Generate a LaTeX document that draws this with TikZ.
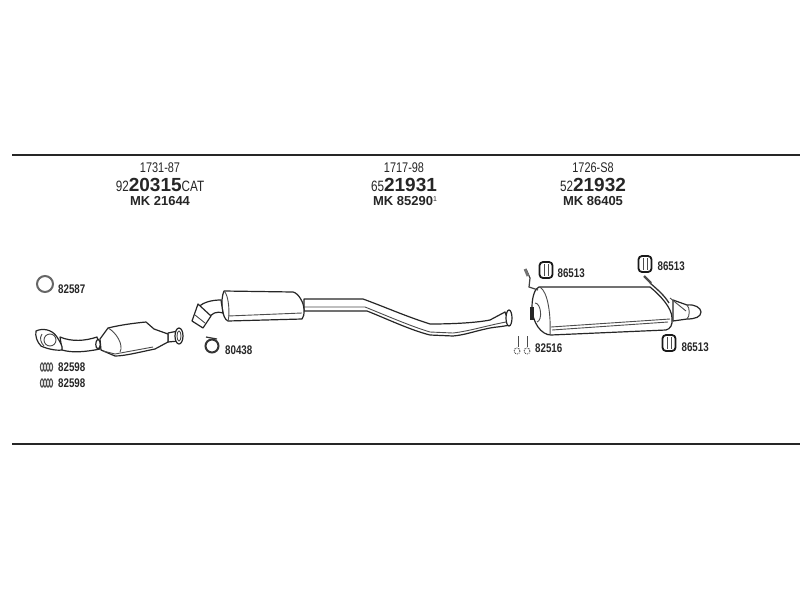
\documentclass[tikz,border=0pt]{standalone}
\usepackage{fontspec}
\setmainfont{Liberation Sans}
\newfontfamily\narrowfont[FakeStretch=0.78]{Liberation Sans}
\newcommand{\numprefix}{\narrowfont\mdseries\fontsize{15}{15}\selectfont}
\usetikzlibrary{positioning}

\begin{document}
\begin{tikzpicture}[x=1pt,y=-1pt]
    \tikzstyle{rule} = [line width=1.6pt, draw=black!85]
    \tikzstyle{part} = [line width=1.2pt, draw=black!85, fill=white, line join=round]
    \tikzstyle{detail} = [line width=0.9pt, draw=black!70]
    \tikzstyle{refnum} = [font=\narrowfont\fontsize{14}{14}\selectfont, inner sep=0pt, text=black!85]
    \tikzstyle{ordernum} = [font=\narrowfont\bfseries\fontsize{12.5}{12.5}\selectfont, inner sep=0pt, anchor=west, text=black!85]
    \tikzstyle{mainnum} = [font=\fontsize{19}{19}\selectfont\bfseries, inner sep=0pt, text=black!85]
    \tikzstyle{mknum} = [font=\bfseries\fontsize{13}{13}\selectfont, inner sep=0pt, text=black!85]
    \tikzstyle{bush} = [draw=black!90, line width=1.8pt, rounded corners=3.5pt, minimum width=13pt, minimum height=16pt, inner sep=0pt, fill=white]
    \tikzstyle{ring} = [circle, draw=black!60, line width=2pt, inner sep=0pt]
    \useasboundingbox (0,0) rectangle (800,600);

    \draw [rule] (12,155) -- (800,155);
    \draw [rule] (12,444) -- (800,444);

    % header columns
    \node (catref)[refnum] at (160,168) {1731-87};
    \node (catnum)[mainnum] at (160,185) {{\numprefix 92}20315{\numprefix CAT}};
    \node (catmk)[mknum] at (160,201) {MK 21644};
    \node (midref)[refnum] at (404,168) {1717-98};
    \node (midnum)[mainnum] at (404,185) {{\numprefix 65}21931};
    \node (midmk)[mknum] at (405,201) {MK 85290\raisebox{4pt}{\mdseries\fontsize{7}{7}\selectfont 1}};
    \node (rearref)[refnum] at (593,168) {1726-S8};
    \node (rearnum)[mainnum] at (593,185) {{\numprefix 52}21932};
    \node (rearmk)[mknum] at (593,201) {MK 86405};

    % catalytic converter
    \draw [part] (60,337) .. controls (72,342) and (85,341) .. (97,337) -- (100,349) .. controls (85,352) and (72,353) .. (62,350) -- cycle;
    \draw [part] (36,331) .. controls (42,328) and (52,329) .. (57,337) .. controls (60,342) and (63,346) .. (62,350) .. controls (55,351) and (45,348) .. (41,346) .. controls (37,342) and (35,336) .. (36,331) -- cycle;
    \draw [detail] (50,340) circle (6);
    \draw [detail] (42,334) .. controls (39,338) and (41,343) .. (44,346);
    \draw [part] (168,333) -- (178,331) -- (179,341) -- (168,342) -- cycle;
    \draw [part] (100,339) -- (108,328) .. controls (120,325) and (135,323) .. (146,322) -- (154,329) -- (168,334) -- (168,342) -- (155,349) .. controls (140,352) and (125,356) .. (115,356) -- (101,350) -- cycle;
    \draw [detail] (108,328) .. controls (116,332) and (124,345) .. (120,352);
    \draw [detail] (103,351) -- (115,354) -- (153,347);
    \draw [part] (98,339) .. controls (101,341) and (101,348) .. (98,349) .. controls (95,348) and (95,341) .. (98,339) -- cycle;
    \draw [part] (179,336) ellipse (4 and 8);
    \draw [detail] (179,336) ellipse (2 and 5);

    % centre silencer and pipe
    \draw [part] (304,299) -- (363,299) .. controls (385,307) and (405,316) .. (430,324) .. controls (450,324) and (475,323) .. (490,320) -- (505,312) -- (510,325) .. controls (500,327) and (495,327) .. (490,328) .. controls (475,331) and (465,335) .. (453,336) -- (430,335) .. controls (410,330) and (385,318) .. (367,311) -- (304,311) -- cycle;
    \draw [detail] (304,307) -- (365,307) .. controls (385,315) and (410,326) .. (430,332) -- (453,333) .. controls (470,331) and (485,326) .. (506,322);
    \draw [part] (509,318) ellipse (3 and 8);
    \draw [part] (224,291) -- (293,292) .. controls (298,293) and (304,302) .. (304,310) .. controls (304,314) and (304,317) .. (302,319) -- (228,321) .. controls (222,319) and (220,300) .. (224,291) -- cycle;
    \draw [detail] (228,316) -- (302,313);
    \draw [detail] (224,291) .. controls (229,295) and (230,315) .. (228,321);
    \draw [part] (198,307) .. controls (204,302) and (212,300) .. (221,300) -- (223,313) .. controls (216,311) and (212,313) .. (208,319) -- cycle;
    \draw [part] (198,304) -- (211,316) -- (203,328) -- (192,321) -- cycle;
    \draw [detail] (195,315) -- (205,323);

    % rear silencer
    \draw [part] (673,300) -- (687,305) .. controls (695,304) and (701,308) .. (701,312) .. controls (701,317) and (695,319) .. (687,319) -- (673,321) -- cycle;
    \draw [detail] (670,298) -- (686,311);
    \draw [detail] (687,305) .. controls (690,308) and (690,316) .. (687,319);
    \draw [part] (539,287) -- (650,287) .. controls (660,295) and (672,308) .. (672,318) .. controls (673,325) and (670,329) .. (666,330) -- (551,335) .. controls (541,335) and (532,322) .. (532,307) .. controls (532,297) and (535,288) .. (539,287) -- cycle;
    \draw [detail] (540,287) .. controls (548,292) and (551,315) .. (550,335);
    \draw [detail] (551,327) -- (670,319);
    \draw [detail] (552,330) -- (668,322);
    \draw [line width=3.5pt, draw=black!85] (532,307) -- (532,320);
    \draw [detail] (535,303) .. controls (541,303) and (543,320) .. (537,322);
    \draw [line width=1.3pt, draw=black!80] (650,283) .. controls (658,290) and (664,295) .. (669,303);
    \draw [line width=2.2pt, draw=black!70] (644,276) -- (651,283);
    \draw [line width=1.2pt, draw=black!75] (526,269) -- (530,278) -- (529,287) -- (538,290);
    \draw [line width=2.8pt, draw=black!55] (525,269) -- (528,276);

    % rubber mountings
    \node (bushleft)[bush] at (546,270) {};
    \draw [detail] (bushleft.center) ++(-2,-6) -- ++(0,12) ++(4,-12) -- ++(0,12);
    \node (bushtop)[bush] at (645,264) {};
    \draw [detail] (bushtop.center) ++(-2,-6) -- ++(0,12) ++(4,-12) -- ++(0,12);
    \node (bushrear)[bush] at (669,343) {};
    \draw [detail] (bushrear.center) ++(-2,-6) -- ++(0,12) ++(4,-12) -- ++(0,12);
    \node (numleft)[ordernum, right=4pt of bushleft, yshift=-3pt] {86513};
    \node (numtop)[ordernum, right=5pt of bushtop, yshift=-2pt] {86513};
    \node (numrear)[ordernum, right=5pt of bushrear, yshift=-4pt] {86513};

    % small parts
    \node (gasket)[ring, minimum size=16pt] at (45,284) {};
    \node (numgasket)[ordernum] at (58,289) {82587};
    \node (clampring)[ring, minimum size=13pt, draw=black!80] at (212,346) {};
    \draw [line width=1.2pt, draw=black!80] (206,337) -- (217,339);
    \node (numclamp)[ordernum] at (225,350) {80438};
    \foreach \y in {367,383}
        \foreach \x in {42,45,48,51}
            \draw [detail, line width=1.1pt] (\x,\y) ellipse (1.6 and 4);
    \node (numspringa)[ordernum] at (58,367) {82598};
    \node (numspringb)[ordernum] at (58,383) {82598};
    \draw [detail] (518,336) -- (518,347) (527,336) -- (527,347);
    \draw [detail, densely dotted] (517,351) circle (3) (527,351) circle (3);
    \node (numbolt)[ordernum] at (535,348) {82516};
\end{tikzpicture}
\end{document}
